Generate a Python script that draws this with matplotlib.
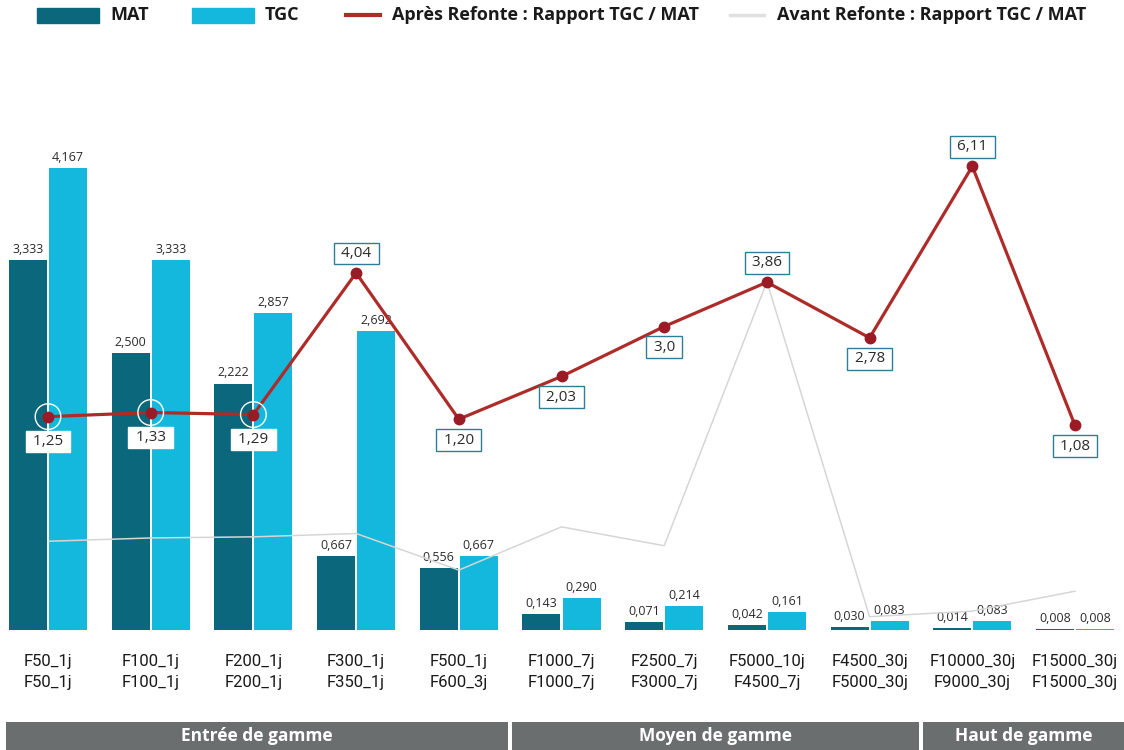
import matplotlib
matplotlib.use('Agg')
import matplotlib.pyplot as plt
import numpy as np
from matplotlib.patches import Rectangle
from matplotlib.lines import Line2D

# Donnees
labels_haut = ['F50_1j', 'F100_1j', 'F200_1j', 'F300_1j', 'F500_1j', 'F1000_7j',
               'F2500_7j', 'F5000_10j', 'F4500_30j', 'F10000_30j', 'F15000_30j']
labels_bas = ['F50_1j', 'F100_1j', 'F200_1j', 'F350_1j', 'F600_3j', 'F1000_7j',
              'F3000_7j', 'F4500_7j', 'F5000_30j', 'F9000_30j', 'F15000_30j']
mat = [3.333, 2.500, 2.222, 0.667, 0.556, 0.143, 0.071, 0.042, 0.030, 0.014, 0.008]
tgc = [4.167, 3.333, 2.857, 2.692, 0.667, 0.290, 0.214, 0.161, 0.083, 0.083, 0.008]
rapport_apres = [1.25, 1.33, 1.29, 4.04, 1.20, 2.03, 3.0, 3.86, 2.78, 6.11, 1.08]
rapport_apres_txt = ['1,25', '1,33', '1,29', '4,04', '1,20', '2,03', '3,0', '3,86', '2,78', '6,11', '1,08']
rapport_avant = [0.80, 0.83, 0.84, 0.87, 0.54, 0.93, 0.76, 3.14, 0.12, 0.17, 0.35]
gammes = [('Entrée de gamme', 0, 4), ('Moyen de gamme', 5, 8), ('Haut de gamme', 9, 10)]

# Style
C_MAT = '#0a677c'
C_TGC = '#13b8dc'
C_ROUGE = '#ad2b28'
C_POINT = '#9a1a25'
C_GRIS = '#d6d6d6'
C_BANDE = '#6b6e6f'
C_BORD = '#2e7f94'
C_TXT = '#2b2b2b'
plt.rcParams['font.family'] = ['Open Sans', 'DejaVu Sans']

W, H = 1124, 750


def zone(x0, y0, x1, y1):
    # rectangle en pixels (origine en haut a gauche) -> fraction de figure
    return [x0 / W, 1 - y1 / H, (x1 - x0) / W, (y1 - y0) / H]


fig = plt.figure(figsize=(W / 100, H / 100), dpi=100)

x = np.arange(len(mat))
xlim = (-48 / 102.7, (W - 48) / 102.7)

ax = fig.add_axes(zone(0, 40, W, 630))
ax.set_xlim(*xlim)
ax.set_ylim(0, 590 / 110.9)

l = 0.37
b1 = ax.bar(x - 0.195, mat, width=l, color=C_MAT, zorder=2)
b2 = ax.bar(x + 0.195, tgc, width=l, color=C_TGC, zorder=2)
fmt = lambda v: f'{v:.3f}'.replace('.', ',')
for rects, vals in ((b1, mat), (b2, tgc)):
    for r, v in zip(rects, vals):
        ax.annotate(fmt(v), (r.get_x() + r.get_width() / 2, v), xytext=(0, 3),
                    textcoords='offset points', ha='center', va='bottom',
                    fontsize=9, color=C_TXT)

ax.set_xticks(x, labels=[f'{a}\n{b}' for a, b in zip(labels_haut, labels_bas)])
ax.tick_params(length=0, pad=17)
for t in ax.get_xticklabels():
    t.set_family(['Roboto', 'DejaVu Sans'])
    t.set_fontsize(12)
    t.set_color('#1a1a1a')
    t.set_linespacing(1.5)
ax.set_yticks([])
for s in ax.spines.values():
    s.set_visible(False)

# ligne grise (avant refonte)
ax3 = ax.twinx()
ax3.set_ylim(ax.get_ylim())
ax3.plot(x, rapport_avant, color=C_GRIS, lw=1.1)
ax3.axis('off')

# ligne rouge (apres refonte)
ax2 = ax.twinx()
ax2.set_ylim(-149 / 51.5, 441 / 51.5)
ax2.axis('off')
ax2.plot(x, rapport_apres, color=C_ROUGE, lw=2.3, marker='o', ms=7.5,
         mfc=C_POINT, mec=C_POINT, zorder=3)
ax2.scatter(x[:3], rapport_apres[:3], s=340, facecolors='none', edgecolors='white',
            linewidths=1, zorder=4)
dessus = [False, False, False, True, False, False, False, True, False, True, False]
for i, (v, txt) in enumerate(zip(rapport_apres, rapport_apres_txt)):
    dy = 14 if dessus[i] else (-18 if i < 3 else -15)
    bord = 'white' if i < 3 else C_BORD
    ax2.annotate(f' {txt} ', (x[i], v), xytext=(0, dy), textcoords='offset points',
                 ha='center', va='center', fontsize=11, color=C_TXT, zorder=5,
                 bbox=dict(boxstyle='square,pad=0.22', fc='white', ec=bord, lw=1))

# bandes de gamme
axb = fig.add_axes(zone(0, 722, W, 750))
axb.set_xlim(*xlim)
axb.set_ylim(0, 1)
axb.axis('off')
for nom, a, b in gammes:
    g = max(a - 0.5 + 0.02, xlim[0] + 0.06)
    d = b + 0.5 - 0.02
    axb.bar((g + d) / 2, 1, width=d - g, color=C_BANDE)
    axb.text((g + d) / 2, 0.5, nom, ha='center', va='center', color='white',
             fontsize=12.5, fontweight='bold')

# legende
ty = 1 - 15 / H
leg = dict(va='center', fontsize=13, fontweight='bold', color='#1a1a1a')
fig.add_artist(Rectangle((37 / W, 1 - 23 / H), 62 / W, 15 / H, color=C_MAT,
                         transform=fig.transFigure))
fig.text(110 / W, ty, 'MAT', **leg)
fig.add_artist(Rectangle((192 / W, 1 - 23 / H), 62 / W, 15 / H, color=C_TGC,
                         transform=fig.transFigure))
fig.text(265 / W, ty, 'TGC', **leg)
fig.add_artist(Line2D([346 / W, 380 / W], [ty, ty], color=C_ROUGE, lw=3,
                      transform=fig.transFigure))
fig.text(392 / W, ty, 'Après Refonte : Rapport TGC / MAT', **leg)
fig.add_artist(Line2D([730 / W, 764 / W], [ty, ty], color='#e0e0e0', lw=2.5,
                      transform=fig.transFigure))
fig.text(777 / W, ty, 'Avant Refonte : Rapport TGC / MAT', **leg)

fig.savefig('out.png', dpi=100)
